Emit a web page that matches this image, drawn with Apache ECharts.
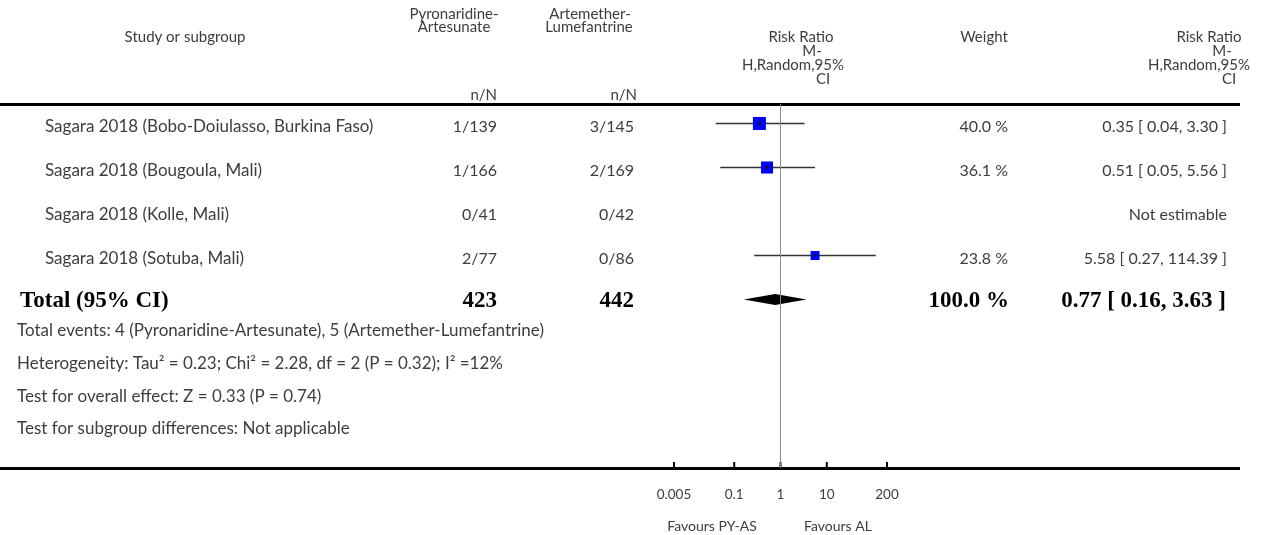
<!DOCTYPE html>
<html><head><meta charset="utf-8">
<script src="https://cdn.jsdelivr.net/npm/echarts@6/dist/echarts.min.js"></script>
<style>html,body{margin:0;padding:0;background:#fff}#c{width:1268px;height:535px}</style>
</head><body><div id="c"></div>
<script>
// ---------------- data ----------------
const studies = [
  'Sagara 2018 (Bobo-Doiulasso, Burkina Faso)',
  'Sagara 2018 (Bougoula, Mali)',
  'Sagara 2018 (Kolle, Mali)',
  'Sagara 2018 (Sotuba, Mali)'
];
const pyasEvents = [1, 1, 0, 2];
const pyasTotal  = [139, 166, 41, 77];
const alEvents   = [3, 2, 0, 0];
const alTotal    = [145, 169, 42, 86];
const weights    = [40.0, 36.1, null, 23.8];
const riskRatio  = [0.35, 0.51, null, 5.58];
const ciLower    = [0.04, 0.05, null, 0.27];
const ciUpper    = [3.30, 5.56, null, 114.39];
const totalLabel = 'Total (95% CI)';
const totalN     = [423, 442];
const totalWeight = 100.0;
const totalEffect = [0.77, 0.16, 3.63]; // estimate, lower, upper
const tickValues = [0.005, 0.1, 1, 10, 200];
const tickLabels = ['0.005', '0.1', '1', '10', '200'];
const footerLines = [
  'Total events: 4 (Pyronaridine-Artesunate), 5 (Artemether-Lumefantrine)',
  'Heterogeneity: Tau\u00B2 = 0.23; Chi\u00B2 = 2.28, df = 2 (P = 0.32); I\u00B2 =12%',
  'Test for overall effect: Z = 0.33 (P = 0.74)',
  'Test for subgroup differences: Not applicable'
];
const favourLabels = ['Favours PY-AS', 'Favours AL'];

// ---------------- layout / style ----------------
const SANS = 'Lato, "Noto Sans", sans-serif';
const SERIF = '"Liberation Serif", "DejaVu Serif", serif';
const TXT = '#3d3d3d';
const FS = 17, NFS = 16, HFS = 15;
const ROW_PX = 44, FIRST_ROW = 19.5;
const GRID = {left: 674, right: 381, top: 104, bottom: 67};
const gridH = 535 - GRID.top - GRID.bottom;
const yMin = -FIRST_ROW / ROW_PX, yMax = (gridH - FIRST_ROW) / ROW_PX;
const totalRow = studies.length;

function fmt2(v) { return v.toFixed(2); }
function sizeFromWeight(w) { return 0.25 * w + 3; }

const forestData = [];
studies.forEach((s, i) => {
  if (riskRatio[i] != null) forestData.push([riskRatio[i], i, ciLower[i], ciUpper[i], weights[i]]);
});
const tableData = studies.map((s, i) => [1, i]);
tableData.push([1, totalRow]);

function txt(text, x, y, align, opts) {
  opts = opts || {};
  return {
    type: 'text',
    style: {
      text: text, x: x, y: y,
      textAlign: align, textVerticalAlign: 'middle',
      align: align, verticalAlign: 'middle',
      fontSize: opts.size || FS, fontFamily: opts.family || SANS,
      fontWeight: opts.weight || 'normal',
      fill: opts.color || TXT
    }
  };
}
function htxt(text, x, y, align) { return txt(text, x, y, align, {size: HFS}); }
function ntxt(text, x, y, align) { return txt(text, x, y, align, {size: NFS}); }

const chart = echarts.init(document.getElementById('c'));
chart.setOption({
  animation: false,
  backgroundColor: '#fff',
  grid: GRID,
  xAxis: {
    type: 'log', min: 0.005, max: 200, logBase: 10,
    axisLine: {show: false}, axisTick: {show: false}, axisLabel: {show: false}, splitLine: {show: false}
  },
  yAxis: {
    type: 'value', min: yMin, max: yMax, inverse: true, show: false
  },
  graphic: {
    elements: [
      {type: 'rect', shape: {x: 0, y: 103, width: 1240, height: 3}, style: {fill: '#000'}},
      {type: 'rect', shape: {x: 0, y: 467, width: 1240, height: 3}, style: {fill: '#000'}},
      // headers
      htxt('Study or subgroup', 185, 37, 'center'),
      htxt('Pyronaridine-', 454, 14, 'center'),
      htxt('Artesunate', 454, 27, 'center'),
      htxt('n/N', 497, 95, 'right'),
      htxt('Artemether-', 590, 14, 'center'),
      htxt('Lumefantrine', 589, 27, 'center'),
      htxt('n/N', 637, 95, 'right'),
      htxt('Risk Ratio', 801, 37, 'center'),
      htxt('M-', 812, 51, 'center'),
      htxt('H,Random,95%', 793, 65, 'center'),
      htxt('CI', 823, 79, 'center'),
      htxt('Weight', 984, 37, 'center'),
      htxt('Risk Ratio', 1209, 37, 'center'),
      htxt('M-', 1222, 51, 'center'),
      htxt('H,Random,95%', 1199, 65, 'center'),
      htxt('CI', 1229, 79, 'center'),
      // footer
      txt(footerLines[0], 17, 331, 'left'),
      txt(footerLines[1], 17, 364, 'left'),
      txt(footerLines[2], 17, 397, 'left'),
      txt(footerLines[3], 17, 429, 'left'),
      txt(favourLabels[0], 712, 526, 'center', {size: 14}),
      txt(favourLabels[1], 838, 526, 'center', {size: 14})
    ]
  },
  series: [
    {
      type: 'custom', name: 'ref', coordinateSystem: 'cartesian2d', z: 1,
      data: [[1, totalRow]],
      renderItem: () => ({type: 'group', children: []}),
      markLine: {
        silent: true, symbol: ['none', 'none'], animation: false,
        label: {show: false},
        lineStyle: {color: '#8c8c8c', width: 1, type: 'solid'},
        data: [{xAxis: 1}]
      }
    },
    {
      type: 'custom', name: 'studies', coordinateSystem: 'cartesian2d', z: 3, clip: false,
      data: forestData,
      encode: {x: [0, 2, 3], y: 1},
      renderItem: function (params, api) {
        const i = api.value(1);
        const pc = api.coord([api.value(0), i]);
        const pl = api.coord([api.value(2), i]);
        const ph = api.coord([api.value(3), i]);
        const y = pc[1];
        const s = sizeFromWeight(api.value(4));
        return {type: 'group', children: [
          {type: 'line', shape: {x1: pl[0], y1: y, x2: ph[0], y2: y}, style: {stroke: '#333', lineWidth: 1.4}},
          {type: 'rect', shape: {x: pc[0] - s / 2, y: y - s / 2, width: s, height: s}, style: {fill: '#0000ff'}},
          {type: 'line', shape: {x1: pc[0] - 2, y1: y, x2: pc[0] + 2, y2: y}, style: {stroke: '#111', lineWidth: 1}},
          {type: 'line', shape: {x1: pc[0], y1: y - 2.5, x2: pc[0], y2: y + 2.5}, style: {stroke: '#111', lineWidth: 1}}
        ]};
      }
    },
    {
      type: 'custom', name: 'total', coordinateSystem: 'cartesian2d', z: 3, clip: false,
      data: [[totalEffect[0], totalRow, totalEffect[1], totalEffect[2]]],
      encode: {x: [0, 2, 3], y: 1},
      renderItem: function (params, api) {
        const i = api.value(1);
        const pc = api.coord([api.value(0), i]);
        const pl = api.coord([api.value(2), i]);
        const ph = api.coord([api.value(3), i]);
        const y = pc[1], h = 5.5;
        return {type: 'polygon', shape: {points: [[pl[0], y], [pc[0], y - h], [ph[0], y], [pc[0], y + h]]}, style: {fill: '#000'}};
      }
    },
    {
      type: 'custom', name: 'ticks', coordinateSystem: 'cartesian2d', z: 4, clip: false,
      data: tickValues.map((v, k) => [v, yMax, k]),
      renderItem: function (params, api) {
        const p = api.coord([api.value(0), api.value(1)]);
        const k = api.value(2);
        return {type: 'group', children: [
          {type: 'line', shape: {x1: p[0], y1: p[1] - 6, x2: p[0], y2: p[1]}, style: {stroke: '#000', lineWidth: 2}},
          txt(tickLabels[k], p[0], p[1] + 27, 'center', {size: 13.5})
        ]};
      }
    },
    {
      type: 'custom', name: 'table', coordinateSystem: 'cartesian2d', z: 5, clip: false,
      data: tableData,
      renderItem: function (params, api) {
        const i = api.value(1);
        const y = api.coord([1, i])[1];
        if (i === totalRow) {
          const o = {size: 23, family: SERIF, weight: 'bold', color: '#000'};
          return {type: 'group', children: [
            txt(totalLabel, 20, y + 2, 'left', o),
            txt(String(totalN[0]), 497, y + 2, 'right', o),
            txt(String(totalN[1]), 634, y + 2, 'right', o),
            txt(totalWeight.toFixed(1) + ' %', 1009, y + 2, 'right', o),
            txt(fmt2(totalEffect[0]) + ' [ ' + fmt2(totalEffect[1]) + ', ' + fmt2(totalEffect[2]) + ' ]', 1226, y + 2, 'right', o)
          ]};
        }
        const ty = y + 3;
        const kids = [
          txt(studies[i], 45, ty, 'left'),
          ntxt(pyasEvents[i] + '/' + pyasTotal[i], 497, ty, 'right'),
          ntxt(alEvents[i] + '/' + alTotal[i], 634, ty, 'right')
        ];
        if (riskRatio[i] != null) {
          ntxt && kids.push(ntxt(weights[i].toFixed(1) + ' %', 1008, ty, 'right'));
          kids.push(ntxt(fmt2(riskRatio[i]) + ' [ ' + fmt2(ciLower[i]) + ', ' + fmt2(ciUpper[i]) + ' ]', 1227, ty, 'right'));
        } else {
          kids.push(ntxt('Not estimable', 1227, ty, 'right'));
        }
        return {type: 'group', children: kids};
      }
    }
  ]
});
</script>
</body></html>
